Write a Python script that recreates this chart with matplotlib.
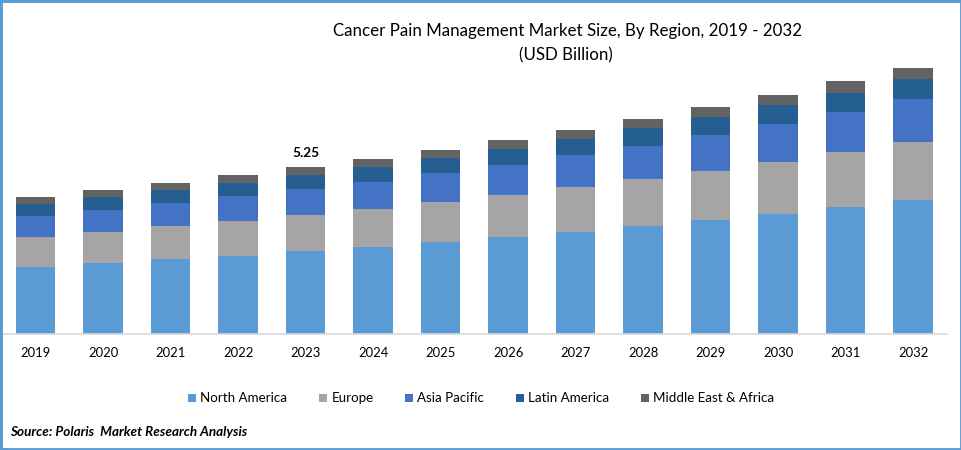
#!/usr/bin/env python3
import numpy as np
import matplotlib
matplotlib.use('Agg')
import matplotlib.pyplot as plt
from matplotlib.patches import Rectangle

years = [2019, 2020, 2021, 2022, 2023, 2024, 2025, 2026, 2027, 2028, 2029, 2030, 2031, 2032]
north_america = [2.11, 2.23, 2.36, 2.45, 2.61, 2.74, 2.89, 3.05, 3.21, 3.40, 3.58, 3.77, 3.99, 4.21]
europe = [0.94, 0.97, 1.04, 1.10, 1.13, 1.19, 1.26, 1.32, 1.42, 1.48, 1.54, 1.64, 1.73, 1.82]
asia_pacific = [0.66, 0.69, 0.72, 0.79, 0.82, 0.85, 0.91, 0.94, 1.01, 1.04, 1.13, 1.19, 1.26, 1.35]
latin_america = [0.38, 0.41, 0.41, 0.41, 0.44, 0.47, 0.47, 0.50, 0.50, 0.57, 0.57, 0.60, 0.60, 0.63]
middle_east = [0.22, 0.22, 0.22, 0.25, 0.25, 0.25, 0.25, 0.28, 0.28, 0.28, 0.31, 0.31, 0.38, 0.35]

series = [
    ('North America', north_america, '#5B9BD5'),
    ('Europe', europe, '#A5A5A5'),
    ('Asia Pacific', asia_pacific, '#4472C4'),
    ('Latin America', latin_america, '#255E91'),
    ('Middle East & Africa', middle_east, '#636363'),
]

plt.rcParams['font.family'] = ['Lato', 'DejaVu Sans']

W, H = 962, 450
fig = plt.figure(figsize=(W / 100, H / 100), dpi=100, facecolor='white')

# axes spans the pixel box of the plot, baseline at y=334
ax = fig.add_axes([1.8 / W, (H - 334) / H, 945 / W, 334 / H])
ax.patch.set_alpha(0)

x = np.arange(len(years))
bottom = np.zeros(len(years))
handles = []
for name, vals, color in series:
    bars = ax.bar(x, vals, width=0.585, bottom=bottom, color=color, label=name, linewidth=0)
    bottom += np.array(vals)
    handles.append(bars)

ax.set_xlim(-0.5, len(years) - 0.5)
ax.set_ylim(0, 334 / 31.8)
ax.set_xticks(x)
ax.set_xticklabels([str(y) for y in years], fontsize=9.4, color='black')
ax.tick_params(axis='x', length=0, pad=9.3)
ax.set_yticks([])
for side in ['top', 'left', 'right']:
    ax.spines[side].set_visible(False)
ax.spines['bottom'].set_color('#D9D9D9')
ax.spines['bottom'].set_linewidth(1.2)

# only 2023 carries a total label
i = years.index(2023)
ax.text(x[i], bottom[i] + 0.24, '5.25', ha='center', va='bottom', fontsize=9.8, fontweight='bold')

fig.text(568 / W, 1 - 31 / H, 'Cancer Pain Management Market Size, By Region, 2019 - 2032',
         ha='center', va='center', fontsize=12.2, color='black')
fig.text(566 / W, 1 - 55 / H, '(USD Billion)', ha='center', va='center', fontsize=12.2, color='black')

fig.legend(handles=handles, loc='center', bbox_to_anchor=(481.5 / W, 1 - 398.5 / H), ncol=5, frameon=False,
           fontsize=9.6, handlelength=0.6, handleheight=0.6, handletextpad=0.3, columnspacing=2.4)

fig.text(10 / W, 1 - 432 / H, 'Source: Polaris  Market Research Analysis', ha='left', va='center',
         fontsize=9.7, fontweight='bold', fontstyle='italic', color='black')

# blue frame around the whole image
fig.add_artist(Rectangle((0, 0), 1, 1, transform=fig.transFigure, fill=False,
                         edgecolor='#5B9BD5', linewidth=3.5))

fig.savefig('out.png', dpi=100)
